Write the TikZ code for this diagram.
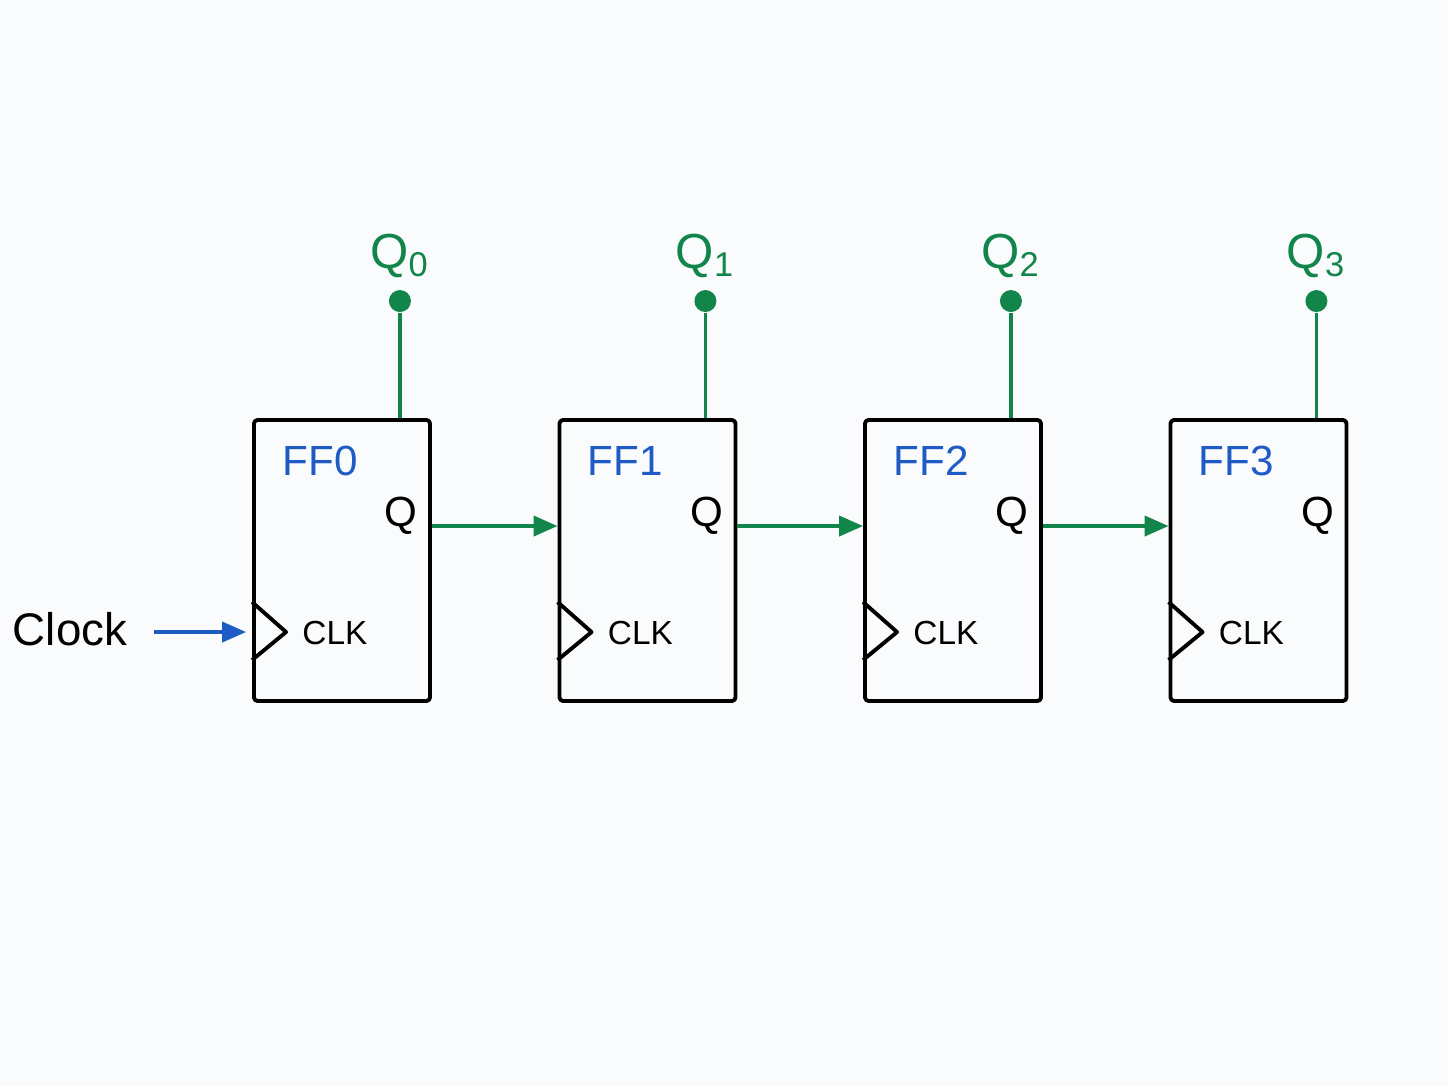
\documentclass[tikz,border=0pt]{standalone}
\usepackage{fontspec}
\setmainfont{Liberation Sans}
\usetikzlibrary{arrows.meta,positioning}
\definecolor{bg}{HTML}{F9FBFD}
\definecolor{qgreen}{HTML}{12854A}
\definecolor{ffblue}{HTML}{1F5BC4}
\tikzstyle{ff}=[shape=rectangle,
                draw=black,
                line width=1.1pt,
                rounded corners=1pt,
                fill=bg,
                minimum width=1.76cm,
                minimum height=2.81cm]
\tikzstyle{sig}=[draw=qgreen,line width=1.1pt]
\tikzstyle{pin}=[circle,fill=qgreen,inner sep=0pt,minimum size=0.22cm]
\begin{document}
\begin{tikzpicture}[>={Triangle[length=0.24cm,width=0.2cm]},line join=round]
\useasboundingbox (0,0) rectangle (14.48,10.86);
\fill[bg] (0,0) rectangle (14.48,10.86);

% flip-flops
\foreach \i in {0,1,2,3} {
  \pgfmathsetmacro{\cx}{3.42+3.055*\i}
  \node[ff] (ff\i) at (\cx,5.255) {};
  \node[text=ffblue,font=\fontsize{12}{12}\selectfont,anchor=west]
       at ([xshift=0.18cm,yshift=-0.43cm]ff\i.north west) {FF\i};
  \node[font=\fontsize{12}{12}\selectfont] (q\i)
       at ([xshift=-0.31cm,yshift=-0.98cm]ff\i.north east) {Q};
  \draw[line width=1.1pt] ([yshift=-1.84cm]ff\i.north west) -- ++(0.34,-0.3) -- ++(-0.34,-0.28);
  \node[font=\fontsize{9.5}{9.5}\selectfont,anchor=west]
       at ([xshift=0.38cm,yshift=-2.15cm]ff\i.north west) {CLK};
  % outputs
  \coordinate (top\i) at ([xshift=-0.32cm]ff\i.north east);
  \node[pin] (p\i) at ([yshift=1.17cm]top\i) {};
  \draw[sig] (top\i) -- (p\i);
  \node[text=qgreen,font=\fontsize{14}{14}\selectfont] at ([yshift=0.45cm]p\i) {Q\textsubscript{\i}};
}

% chain
\foreach \a/\b in {0/1,1/2,2/3}
  \draw[sig,->,fill=qgreen] ([yshift=-1.08cm]ff\a.north east) -- ([yshift=-1.08cm]ff\b.north west);

% clock
\node[font=\fontsize{13}{13}\selectfont] (clk) at (0.70,4.57) {Clock};
\coordinate (clkin) at ([xshift=-0.06cm,yshift=-2.14cm]ff0.north west);
\draw[->,draw=ffblue,fill=ffblue,line width=1.1pt] (clk.east |- clkin) ++(0.14,0) coordinate (clkout) (clkout) -- (clkin);
\end{tikzpicture}
\end{document}
